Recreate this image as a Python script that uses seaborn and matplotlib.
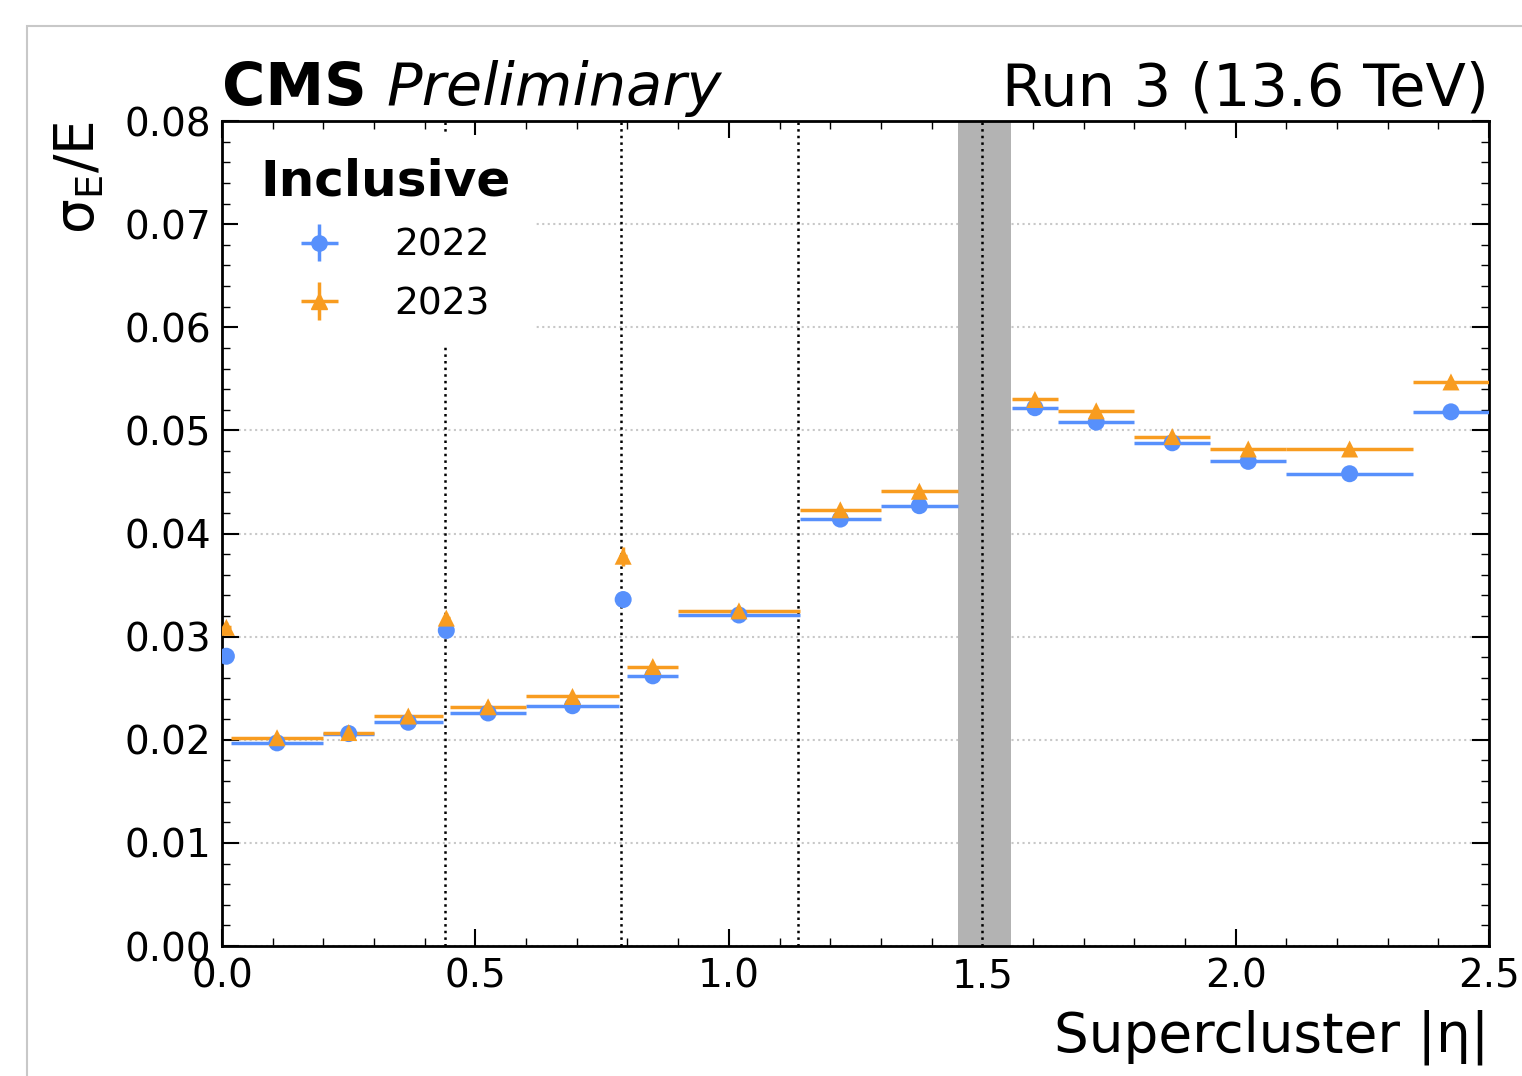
import matplotlib
matplotlib.use("Agg")
import matplotlib.pyplot as plt
import seaborn as sns
import pandas as pd
from matplotlib.ticker import MultipleLocator
from matplotlib.lines import Line2D
from matplotlib.patches import Rectangle
from matplotlib.legend_handler import HandlerTuple

# supercluster |eta| bins (low / high edges)
eta_lo = [0.0, 0.017, 0.2, 0.3, 0.435, 0.45, 0.6, 0.783, 0.8, 0.9, 1.14, 1.3,
          1.558, 1.65, 1.8, 1.95, 2.1, 2.35]
eta_hi = [0.017, 0.2, 0.3, 0.435, 0.45, 0.6, 0.783, 0.8, 0.9, 1.14, 1.3, 1.452,
          1.65, 1.8, 1.95, 2.1, 2.35, 2.5]

# relative energy resolution sigma_E / E
res_2022 = [0.0281, 0.0197, 0.0206, 0.0217, 0.0306, 0.0226, 0.0233, 0.0336, 0.0262,
            0.0321, 0.0414, 0.0427, 0.0522, 0.0508, 0.0488, 0.0470, 0.0458, 0.0518]
res_2023 = [0.0309, 0.0202, 0.0207, 0.0223, 0.0318, 0.0232, 0.0242, 0.0378, 0.0271,
            0.0325, 0.0423, 0.0441, 0.0530, 0.0519, 0.0494, 0.0482, 0.0482, 0.0547]
err_2022 = [0.0004, 0.0001, 0.0001, 0.0001, 0.0004, 0.0001, 0.0001, 0.0005, 0.0001,
            0.0001, 0.0001, 0.0001, 0.0002, 0.0001, 0.0001, 0.0001, 0.0001, 0.0002]
err_2023 = [0.0005, 0.0001, 0.0001, 0.0001, 0.0005, 0.0001, 0.0001, 0.0009, 0.0001,
            0.0001, 0.0001, 0.0001, 0.0002, 0.0001, 0.0001, 0.0001, 0.0001, 0.0002]

module_gaps = [0.44, 0.787, 1.137, 1.5]
gap_lo, gap_hi = 1.452, 1.557

c2022 = "#5790fc"
c2023 = "#f89c20"

rows = []
for year, vals, errs in [("2022", res_2022, err_2022), ("2023", res_2023, err_2023)]:
    for lo, hi, v, e in zip(eta_lo, eta_hi, vals, errs):
        rows.append({"year": year, "eta": (lo + hi) / 2, "xerr": (hi - lo) / 2,
                     "res": v, "err": e})
df = pd.DataFrame(rows)

sns.set_theme(style="ticks")
plt.rcParams.update({
    "font.family": ["DejaVu Sans"],
    "mathtext.default": "regular",
    "text.color": "black", "axes.labelcolor": "black",
    "xtick.color": "black", "ytick.color": "black",
    "xtick.direction": "in", "ytick.direction": "in",
    "xtick.top": True, "ytick.right": True,
    "xtick.minor.visible": True, "ytick.minor.visible": True,
    "xtick.major.size": 12, "ytick.major.size": 12,
    "xtick.minor.size": 6, "ytick.minor.size": 6,
    "xtick.major.width": 1.5, "ytick.major.width": 1.5,
    "xtick.minor.width": 1.0, "ytick.minor.width": 1.0,
    "axes.linewidth": 2.0,
    "axes.edgecolor": "black",
})

fig = plt.figure(figsize=(15.22, 10.76), dpi=100)
ax = fig.add_axes([0.1459, 0.1208, 0.8324, 0.7667])

# detector features
ax.axvspan(gap_lo, gap_hi, color="#b3b3b3", lw=0, zorder=1)
for g in module_gaps:
    ax.axvline(g, color="black", ls=":", lw=1.8, zorder=2)

handles = []
for year, col, mk in [("2022", c2022, "o"), ("2023", c2023, "^")]:
    d = df[df["year"] == year]
    eb = ax.errorbar(d["eta"], d["res"], xerr=d["xerr"], yerr=d["err"], fmt="none",
                     ecolor=col, elinewidth=2.5, capsize=0, zorder=3)
    sns.scatterplot(data=d, x="eta", y="res", color=col, marker=mk, s=150,
                    edgecolor="none", legend=False, ax=ax, zorder=4)
    handles.append((eb, Line2D([], [], ls="none", marker=mk, color=col, markersize=11)))

ax.set_xlim(0, 2.5)
ax.set_ylim(0, 0.08)
ax.xaxis.set_major_locator(MultipleLocator(0.5))
ax.xaxis.set_minor_locator(MultipleLocator(0.1))
ax.yaxis.set_major_locator(MultipleLocator(0.01))
ax.yaxis.set_minor_locator(MultipleLocator(0.002))
ax.tick_params(axis="both", which="major", labelsize=28, pad=8)
ax.grid(axis="y", which="major", ls=":", color="#c8c8c8", lw=1.5)
ax.grid(axis="x", visible=False)

ax.set_xlabel("Supercluster |η|", fontsize=39.5, loc="right", labelpad=10)
ax.set_ylabel("σ$_{E}$/E", fontsize=39.5, loc="top", labelpad=13)

leg = ax.legend(handles, ["2022", "2023"], title="Inclusive", loc="upper left",
                bbox_to_anchor=(-0.002, 1.006), fontsize=27, frameon=True,
                framealpha=1, facecolor="white", edgecolor="none",
                handletextpad=1.0, borderpad=0.6, labelspacing=0.6,
                handler_map={tuple: HandlerTuple(ndivide=1, pad=0)})
leg.get_title().set_fontsize(36)
leg.get_title().set_fontweight("bold")
leg.get_frame().set_boxstyle("square", pad=0)

cms = ax.text(0.0, 1.019, "CMS", transform=ax.transAxes, fontsize=42.5,
              fontweight="bold", ha="left", va="baseline")
ax.annotate("Preliminary", xy=(1, 0), xycoords=cms, xytext=(14, 0),
            textcoords="offset points", fontsize=42.5, style="italic",
            ha="left", va="bottom")
ax.text(1.0, 1.019, "Run 3 (13.6 TeV)", transform=ax.transAxes, fontsize=42.5,
        ha="right", va="baseline")

# light frame around the figure, as in the screenshot
fig.add_artist(Rectangle((27 / 1522, -0.1), 1.2, 1 - 26 / 1076 + 0.1,
                         transform=fig.transFigure, facecolor="none",
                         edgecolor="#c8c8c8", lw=1.5, clip_on=False))

fig.savefig("out.png", dpi=100)
